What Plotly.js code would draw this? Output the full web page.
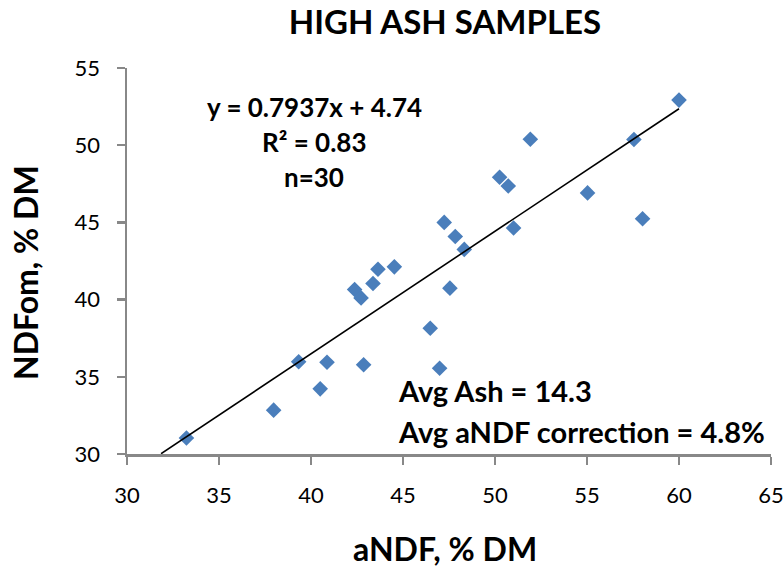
<!DOCTYPE html>
<html>
<head>
<meta charset="utf-8">
<script src="https://cdn.plot.ly/plotly-3.0.1.min.js"></script>
<style>html,body{margin:0;padding:0;background:#fff;}#chart{width:783px;height:568px;}</style>
</head>
<body>
<div id="chart"></div>
<script>
const andf = [33.23, 37.97, 39.33, 40.87, 40.5, 42.86, 42.37, 42.72, 43.37, 43.64, 44.53, 46.48, 46.99, 47.55, 47.24, 47.84, 48.33, 51.01, 50.25, 50.72, 51.92, 55.03, 58.02, 57.55, 60.0];
const ndfom = [31.04, 32.84, 35.97, 35.94, 34.22, 35.78, 40.65, 40.11, 41.04, 41.97, 42.12, 38.14, 35.55, 40.74, 45.0, 44.09, 43.25, 44.64, 47.92, 47.36, 50.39, 46.91, 45.24, 50.37, 52.92];
const slope = 0.7937, intercept = 4.74;
const trendX = [31.85, 60.0];
const trendY = trendX.map(x => slope * x + intercept);
const xTicks = [30, 35, 40, 45, 50, 55, 60, 65];
const yTicks = [30, 35, 40, 45, 50, 55];

const font = 'Lato, "Open Sans", "Liberation Sans", sans-serif';
const L = 127, R = 771, T = 68, B = 454, W = 783, H = 568;
const px = x => (x - L) / (R - L);
const py = y => (B - y) / (B - T);

const data = [
  {x: andf, y: ndfom, mode: 'markers', type: 'scatter',
   marker: {symbol: 'diamond', size: 12, color: '#4A7EBB', line: {width: 0}}, hoverinfo: 'x+y'},
  {x: trendX, y: trendY, mode: 'lines', type: 'scatter', line: {color: '#000', width: 1.6}}
];
const axisCommon = {
  showgrid: false, zeroline: false,
  showline: true, linecolor: '#888', linewidth: 2.5, ticks: 'outside', ticklen: 8, tickcolor: '#888', tickwidth: 2.5,
  tickfont: {size: 22, family: font, color: '#000'}, ticklabelstandoff: 12, ticklabeloverflow: 'allow'
};
const layout = {
  width: W, height: H,
  margin: {l: L, r: W - R, t: T, b: H - B},
  paper_bgcolor: '#fff', plot_bgcolor: '#fff',
  showlegend: false,
  font: {family: font, color: '#000'},
  title: {text: '<b>HIGH ASH SAMPLES</b>', xref: 'paper', x: px(445), xanchor: 'center', yref: 'container', y: 1 - 22.5 / H, yanchor: 'middle',
    font: {size: 33, family: font, color: '#000'}},
  xaxis: Object.assign({range: [30, 65], tickvals: xTicks, ticktext: xTicks.map(String)}, axisCommon),
  yaxis: Object.assign({range: [30, 55], tickvals: yTicks, ticktext: yTicks.map(String)}, axisCommon),
  annotations: [
    {xref: 'paper', yref: 'paper', x: px(445), y: py(548), text: '<b>aNDF, % DM</b>', showarrow: false, xanchor: 'center', yanchor: 'middle', font: {size: 32, family: font}},
    {xref: 'paper', yref: 'paper', x: px(25), y: py(273), text: '<b>NDFom, % DM</b>', textangle: -90, showarrow: false, xanchor: 'center', yanchor: 'middle', font: {size: 32, family: font}},
    {xref: 'paper', yref: 'paper', x: px(314), y: py(106.7), text: '<b>y = 0.7937x + 4.74</b>', showarrow: false, xanchor: 'center', yanchor: 'middle', font: {size: 26, family: font}},
    {xref: 'paper', yref: 'paper', x: px(314), y: py(141.7), text: '<b>R² = 0.83</b>', showarrow: false, xanchor: 'center', yanchor: 'middle', font: {size: 26, family: font}},
    {xref: 'paper', yref: 'paper', x: px(314), y: py(176.7), text: '<b>n=30</b>', showarrow: false, xanchor: 'center', yanchor: 'middle', font: {size: 26, family: font}},
    {xref: 'paper', yref: 'paper', x: px(396), y: py(390), text: '<b>Avg Ash = 14.3</b>', showarrow: false, xanchor: 'left', yanchor: 'middle', font: {size: 29, family: font}},
    {xref: 'paper', yref: 'paper', x: px(396), y: py(431.5), text: '<b>Avg aNDF correction = 4.8%</b>', showarrow: false, xanchor: 'left', yanchor: 'middle', font: {size: 29, family: font}}
  ]
};
Plotly.newPlot('chart', data, layout, {displayModeBar: false, staticPlot: true});
</script>
</body>
</html>
